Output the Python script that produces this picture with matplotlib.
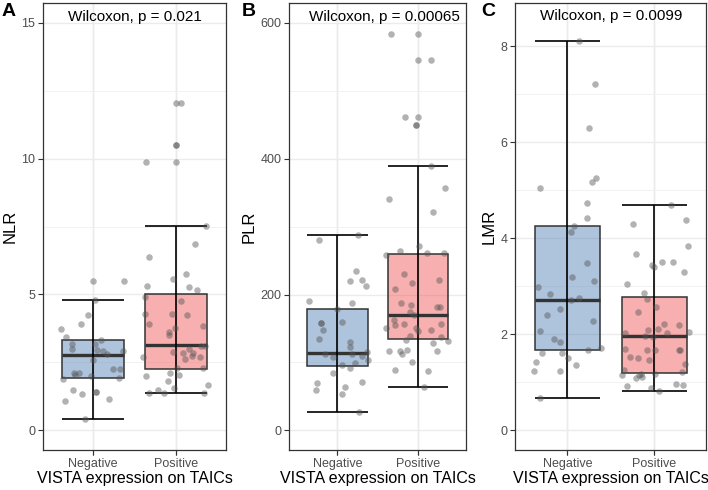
import matplotlib
matplotlib.use("Agg")
import matplotlib.pyplot as plt
import numpy as np

plt.rcParams['font.family'] = ['Liberation Sans', 'DejaVu Sans']

groups = ["Negative", "Positive"]
panel_letters = ["A", "B", "C"]
y_labels = ["NLR", "PLR", "LMR"]
p_labels = ["Wilcoxon, p = 0.021", "Wilcoxon, p = 0.00065", "Wilcoxon, p = 0.0099"]
x_label = "VISTA expression on TAICs"

# ---- box statistics (q1, median, q3, whisker low, whisker high) ----
nlr_stats = {"Negative": [1.91, 2.76, 3.32, 0.43, 4.78], "Positive": [2.26, 3.14, 5.00, 1.37, 7.52]}
plr_stats = {"Negative": [94.6, 113.8, 178.0, 26.5, 287.9], "Positive": [134.8, 170.2, 259.4, 63.3, 389.4]}
lmr_stats = {"Negative": [1.68, 2.71, 4.25, 0.67, 8.11], "Positive": [1.20, 1.97, 2.78, 0.82, 4.69]}

# ---- points: values and horizontal jitter (category units) ----
nlr_neg = [5.51, 5.51, 4.79, 4.24, 3.90, 3.74, 3.43, 3.18, 3.31, 3.18, 2.99, 2.96, 2.93, 2.90, 2.80,
           2.58, 2.27, 2.27, 2.09, 2.05, 2.09, 2.00, 1.89, 1.92, 1.48, 1.35, 1.42, 1.42, 1.09, 1.14, 0.43]
nlr_neg_jit = [0.00, 0.37, 0.03, -0.06, -0.14, -0.38, -0.32, -0.25, 0.10, 0.02, -0.25, 0.05, 0.12, 0.36, 0.17,
               0.00, 0.33, 0.24, -0.23, -0.21, -0.17, -0.02, -0.36, 0.31, -0.24, -0.13, 0.04, 0.04, -0.33, 0.19, -0.10]
nlr_pos = [12.03, 12.03, 10.49, 10.49, 9.86, 9.86, 7.52, 6.85, 6.38, 5.57, 5.74, 5.31, 5.26, 5.16, 4.92,
           4.75, 4.28, 4.28, 4.26, 3.91, 3.84, 3.75, 3.60, 3.50, 3.10, 3.10, 2.98, 2.86, 2.85, 2.87,
           2.70, 2.62, 2.72, 2.70, 2.28, 2.30, 2.10, 2.05, 2.00, 1.80, 1.47, 1.55, 1.37, 1.36, 1.36, 1.65]
nlr_pos_jit = [0.00, 0.06, 0.00, 0.00, -0.36, 0.00, 0.36, 0.23, -0.33, -0.04, 0.12, -0.35, 0.15, 0.25, -0.37,
               0.06, -0.05, -0.37, 0.13, -0.33, 0.32, -0.01, -0.08, -0.08, 0.30, 0.35, 0.16, 0.20, 0.08, -0.04,
               0.29, 0.11, 0.19, -0.40, 0.32, 0.01, -0.07, 0.03, -0.36, -0.10, -0.22, -0.03, -0.14, -0.33, 0.34, 0.38]

plr_neg = [280, 288, 234, 220, 222, 213, 190.7, 187, 178, 157.4, 157.4, 160, 147.6, 134.8, 130, 123, 112,
           108, 112, 115, 110, 103.5, 98.6, 96, 91.7, 84.8, 69, 59.8, 63.3, 54, 70.6, 26.5]
plr_neg_jit = [-0.23, 0.26, 0.23, 0.16, 0.30, 0.36, -0.36, 0.18, 0.00, -0.20, -0.20, 0.06, -0.18, -0.23, 0.16,
               0.15, -0.15, -0.06, 0.18, 0.37, 0.30, 0.38, 0.22, 0.05, 0.15, -0.06, -0.26, -0.27, 0.09, 0.06,
               0.31, 0.27]
plr_pos = [583.7, 583.7, 546, 546, 461.5, 461.5, 450, 450, 389, 356.6, 340, 321, 271.7, 264, 258, 261, 261,
           230.5, 217, 222, 208, 188, 185, 181, 181, 174, 170, 163, 157, 157, 155, 150.5, 150, 146, 148,
           138.8, 137, 133, 131, 128.5, 117, 117, 112, 118.5, 117, 100, 88.7, 87.5, 63.3]
plr_pos_jit = [-0.34, 0.00, 0.00, 0.17, -0.16, 0.00, -0.02, -0.02, 0.17, 0.34, -0.36, 0.19, 0.02, -0.22, -0.39,
               0.11, 0.32, -0.17, -0.07, 0.27, -0.29, -0.21, -0.09, 0.24, 0.28, -0.10, -0.05, -0.30, -0.17,
               0.29, -0.28, -0.40, -0.02, 0.00, 0.16, -0.10, 0.29, -0.15, 0.37, 0.19, -0.36, -0.22, -0.20,
               -0.14, 0.24, -0.07, -0.29, 0.13, 0.08]

lmr_neg = [8.11, 7.21, 6.29, 5.25, 5.17, 5.05, 4.74, 4.42, 4.26, 4.12, 3.48, 3.20, 3.10, 2.98, 2.84, 2.76,
           2.71, 2.53, 2.40, 2.27, 2.06, 1.89, 1.83, 1.67, 1.71, 1.60, 1.60, 1.51, 1.42, 1.36, 1.24, 1.23, 0.67]
lmr_neg_jit = [0.13, 0.32, 0.25, 0.33, 0.28, -0.31, 0.23, 0.23, 0.08, 0.04, 0.23, 0.05, 0.31, -0.34, -0.20,
               0.13, 0.04, -0.08, -0.23, 0.30, -0.31, -0.15, -0.08, 0.24, 0.39, -0.29, -0.06, 0.01, -0.36,
               0.10, -0.39, -0.08, -0.32]
lmr_pos = [4.69, 4.30, 4.37, 3.83, 3.67, 3.44, 3.40, 3.50, 3.50, 3.30, 3.05, 2.85, 2.73, 2.56, 2.46, 2.21,
           2.20, 2.09, 2.10, 2.03, 2.03, 2.05, 1.96, 1.95, 1.70, 1.68, 1.68, 1.67, 1.67, 1.53, 1.50, 1.47,
           1.38, 1.26, 1.22, 1.17, 1.15, 1.14, 1.17, 1.10, 1.08, 0.97, 0.95, 0.91, 0.88, 0.82]
lmr_pos_jit = [0.19, -0.25, 0.37, 0.39, -0.21, -0.03, 0.00, 0.09, 0.22, 0.34, -0.31, -0.12, -0.08, 0.02, -0.19,
               0.11, 0.28, -0.07, 0.04, 0.15, -0.34, 0.40, -0.11, -0.01, -0.34, -0.08, 0.01, 0.28, 0.30,
               -0.28, -0.19, -0.06, 0.36, -0.35, 0.32, -0.15, -0.18, -0.37, 0.01, -0.14, -0.21, 0.25, 0.33,
               -0.31, -0.04, 0.06]

panels = [
    (nlr_stats, [(nlr_neg, nlr_neg_jit), (nlr_pos, nlr_pos_jit)], (-0.74, 15.73), [0, 5, 10, 15], [2.5, 7.5, 12.5], 1.5, 15.2),
    (plr_stats, [(plr_neg, plr_neg_jit), (plr_pos, plr_pos_jit)], (-29.4, 629.3), [0, 200, 400, 600], [100, 300, 500], 1.58, 608),
    (lmr_stats, [(lmr_neg, lmr_neg_jit), (lmr_pos, lmr_pos_jit)], (-0.42, 8.9), [0, 2, 4, 6, 8], [1, 3, 5, 7], 1.505, 8.62),
]

fills = ["#5F89BB", "#F16161"]
W, H = 708, 490
axes_px = [(43, 226), (289.3, 466), (515.3, 706.3)]
top_px, bot_px = 3, 450.3
letter_x = [2, 242, 481]

fig = plt.figure(figsize=(7.08, 4.90), dpi=100)
for i, (stats, pts, ylim, yt, ymin, px, py) in enumerate(panels):
    l, r = axes_px[i]
    ax = fig.add_axes([l / W, (H - bot_px) / H, (r - l) / W, (bot_px - top_px) / H])
    ax.set_xlim(0.4, 2.6)
    ax.set_ylim(*ylim)
    ax.set_yticks(yt)
    ax.set_yticks(ymin, minor=True)
    ax.set_xticks([1, 2])
    ax.set_xticklabels(groups)
    ax.grid(True, which='major', color='#EBEBEB', lw=1.0, zorder=0)
    ax.grid(True, which='minor', axis='y', color='#F0F0F0', lw=0.6, zorder=0)
    ax.tick_params(which='minor', length=0)
    ax.tick_params(which='major', length=3.5, color='#333333', width=0.8, labelsize=9,
                   labelcolor='#4D4D4D', pad=2)
    for sp in ax.spines.values():
        sp.set_color('#333333')
        sp.set_linewidth(0.9)
    ax.set_axisbelow(True)

    bstats = []
    for g in groups:
        q1, med, q3, lo, hi = stats[g]
        bstats.append(dict(q1=q1, med=med, q3=q3, whislo=lo, whishi=hi, fliers=[], label=g))
    bp = ax.bxp(bstats, positions=[1, 2], widths=0.75, patch_artist=True, showcaps=False,
                showfliers=False,
                boxprops=dict(edgecolor='#333333', linewidth=1.1),
                medianprops=dict(color='#333333', linewidth=2.4),
                whiskerprops=dict(linewidth=0))
    for patch, c in zip(bp['boxes'], fills):
        patch.set_facecolor(matplotlib.colors.to_rgba(c, 0.5))
        patch.set_zorder(2)
    for m in bp['medians']:
        m.set_zorder(3)
    # error bars (whiskers + caps)
    for k, g in enumerate(groups):
        q1, med, q3, lo, hi = stats[g]
        ax.vlines(k + 1, lo, hi, color='black', lw=1.2, zorder=4)
        ax.hlines([lo, hi], k + 1 - 0.375, k + 1 + 0.375, color='black', lw=1.2, zorder=4)
    # jittered points
    for k, (vals, jit) in enumerate(pts):
        x = np.array(jit) + k + 1
        ax.scatter(x, vals, s=22, color='#555555', alpha=0.45, linewidths=0, zorder=5)

    ax.text(px, py, p_labels[i], ha='center', va='center', fontsize=11, color='black')
    ax.set_ylabel(y_labels[i], fontsize=12, labelpad=3)
    ax.set_xlabel(x_label, fontsize=11.5, labelpad=1)
    fig.text(letter_x[i] / W, 1 - 12 / H, panel_letters[i], fontsize=14, fontweight='bold',
             ha='left', va='center')

fig.savefig("out.png", dpi=100)
